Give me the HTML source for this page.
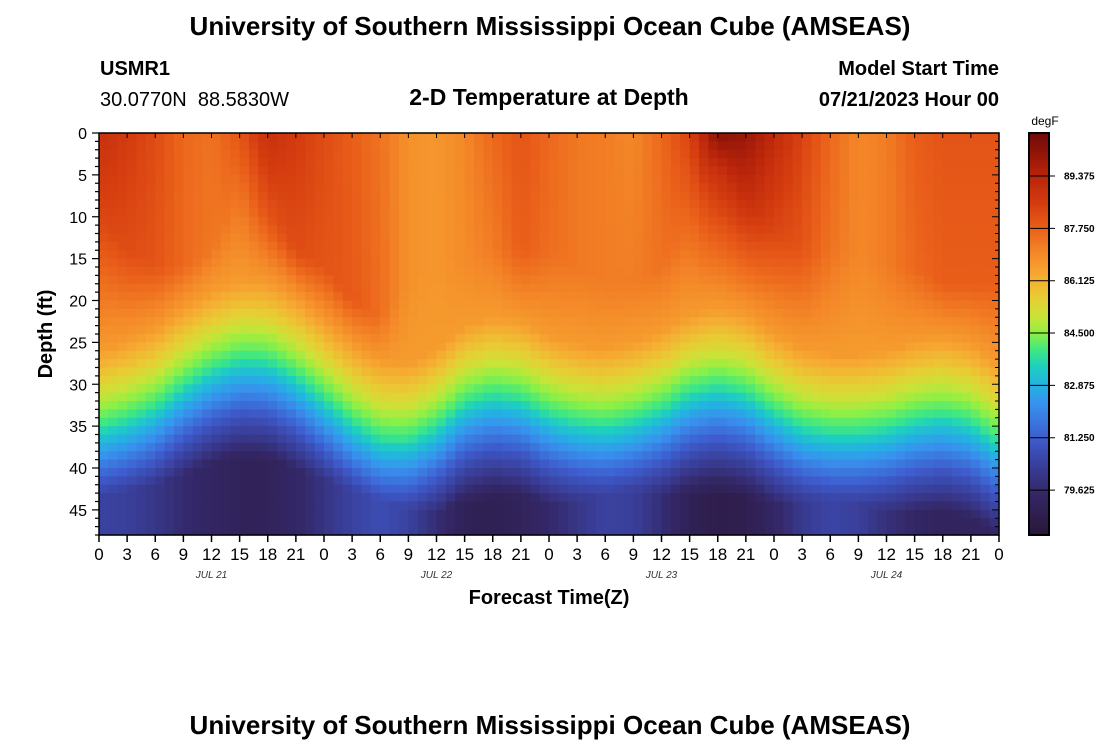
<!DOCTYPE html>
<html><head><meta charset="utf-8"><style>
body{margin:0;background:#fff;width:1100px;height:750px;overflow:hidden;font-family:"Liberation Sans",sans-serif}
svg text{font-family:"Liberation Sans",sans-serif}
</style></head><body>
<svg id="chart" width="1100" height="750" viewBox="0 0 1100 750" xmlns="http://www.w3.org/2000/svg">
<text x="550" y="35" text-anchor="middle" font-size="26" font-weight="bold">University of Southern Mississippi Ocean Cube (AMSEAS)</text>
<text x="100" y="75" font-size="20" font-weight="bold">USMR1</text>
<text x="100" y="106" font-size="20" style="white-space:pre">30.0770N  88.5830W</text>
<text x="549" y="105" text-anchor="middle" font-size="23" font-weight="bold">2-D Temperature at Depth</text>
<text x="999" y="75" text-anchor="end" font-size="20" font-weight="bold">Model Start Time</text>
<text x="999" y="106" text-anchor="end" font-size="20" font-weight="bold">07/21/2023 Hour 00</text>
<g id="cells"></g>
<g id="axes"></g>
<g id="cbar"></g>
<text transform="translate(52,334) rotate(-90)" text-anchor="middle" font-size="20" font-weight="bold">Depth (ft)</text>
<text x="549" y="604" text-anchor="middle" font-size="20" font-weight="bold">Forecast Time(Z)</text>
<text x="550" y="734" text-anchor="middle" font-size="26" font-weight="bold">University of Southern Mississippi Ocean Cube (AMSEAS)</text>
</svg>
<script>
// data sampled every 3 hours, t = 0..96
const times = [0,3,6,9,12,15,18,21,24,27,30,33,36,39,42,45,48,51,54,57,60,63,66,69,72,75,78,81,84,87,90,93,96];
const thermoDepth = [33,32,30.5,28,26,24.8,25,26.8,29.5,32.3,34.3,34.5,32.8,30,29,29.5,31.3,32.3,32.7,32,30.7,28.8,28,28.8,31,32.8,33.5,33.5,33,32,31.5,32.3,34.6];
const surfTemp = [89,88.6,88.2,87.6,87.4,88,89,88.6,88.2,87.8,87.4,86.8,86.7,87,87.6,88,87.6,87.3,87.2,87,87.6,88.4,90.3,90,89.2,88.4,87.6,87,87.2,87.8,88,88,88];
const upperDepth = [10,14,16,16,14,8,10,14,16,20,22,18,16,16,14,14,14,16,18,18,16,10,4,8,12,14,14,14,16,16,18,18,18];
const upperTemp = [88.3,88.2,88,87.6,87.3,87.3,88,88.2,88,87.9,87.5,86.8,86.7,86.9,87.2,87.8,87.5,87.3,87.2,87.2,87.4,87.6,89,89,88.3,88,87.4,87,87.2,87.6,87.8,87.8,87.8];
const bottomTemp = [80.5,80.4,80.1,79.7,79.4,79.2,79.2,79.5,80,80.5,80.8,80.5,79.8,79.1,79,79.2,79.6,80.1,80.5,80.4,79.8,79.1,78.8,78.9,79.5,80.2,80.6,80.4,79.9,79.5,79.3,79.3,79.5];
const xTickLabels = ["0","3","6","9","12","15","18","21","0","3","6","9","12","15","18","21","0","3","6","9","12","15","18","21","0","3","6","9","12","15","18","21","0"];
const yTicks = [0,5,10,15,20,25,30,35,40,45];
const dayLabels = ["JUL 21","JUL 22","JUL 23","JUL 24"];
const cbarTicks = [89.375,87.75,86.125,84.5,82.875,81.25,79.625];

const NS="http://www.w3.org/2000/svg";
const X0=99,X1=999,Y0=133,Y1=535,TMAX=96,DMAX=48;
const xs=t=>X0+(X1-X0)*t/TMAX, ys=d=>Y0+(Y1-Y0)*d/DMAX;
const VMIN=78.23,VMAX=90.71, CB0=1029,CB1=1049;
const cv=v=>Y1-(Y1-Y0)*(v-VMIN)/(VMAX-VMIN);
const stops=[[78.2,[42,22,54]],[79.6,[52,40,105]],[80.5,[58,66,160]],[81.25,[62,92,205]],[82.3,[56,145,238]],[82.9,[36,178,226]],[83.5,[30,208,190]],[84.0,[64,232,128]],[84.5,[140,240,70]],[85.0,[200,228,56]],[85.6,[232,205,52]],[86.3,[246,170,50]],[87.0,[244,136,40]],[87.75,[234,96,26]],[88.5,[214,62,16]],[89.4,[184,36,10]],[90.7,[112,10,8]]];
function color(v){
  if(v<=stops[0][0])return `rgb(${stops[0][1]})`;
  for(let i=1;i<stops.length;i++){if(v<=stops[i][0]){const a=stops[i-1],b=stops[i],f=(v-a[0])/(b[0]-a[0]);
    return `rgb(${a[1].map((c,k)=>Math.round(c+(b[1][k]-c)*f)).join(',')})`;}}
  return `rgb(${stops[stops.length-1][1]})`;
}
function interp(arr,t){const i=Math.min(Math.floor(t/3),arr.length-2),f=(t-times[i])/3;return arr[i]+(arr[i+1]-arr[i])*f;}
function lin(pts,z){for(let i=1;i<pts.length;i++){if(z<=pts[i][0]){const a=pts[i-1],b=pts[i];const f=b[0]==a[0]?0:(z-a[0])/(b[0]-a[0]);return a[1]+(b[1]-a[1])*f;}}return pts[pts.length-1][1];}
function temp(t,z){
  const th=interp(thermoDepth,t),s=interp(surfTemp,t),ud0=interp(upperDepth,t),ut=interp(upperTemp,t),b=interp(bottomTemp,t);
  const ud=Math.min(ud0,th-8);
  const pts=[[0,s],[ud,ut],[th-7,86.6],[th-3.5,85.6],[th,84.5],[th+2,83.9],[th+4,83.0],[th+6.5,82.0],[th+9,81.0],[th+12,80.0],[th+16,78.5],[th+40,78]];
  return Math.max(lin(pts,z),b);
}
const cells=document.getElementById('cells');
const dt=1,dz=1;
for(let t=0;t<TMAX;t+=dt){for(let z=0;z<DMAX;z+=dz){
  const r=document.createElementNS(NS,'rect');
  
  
  const x=xs(t),y=ys(z);
  r.setAttribute('x',x.toFixed(2));r.setAttribute('y',y.toFixed(2));
  r.setAttribute('width',(xs(t+dt)-x+0.6).toFixed(2));r.setAttribute('height',(ys(z+dz)-y+0.6).toFixed(2));
  r.setAttribute('fill',color(temp(t+dt/2,z+dz/2)));
  cells.appendChild(r);
}}
const ax=document.getElementById('axes');
function line(g,x1,y1,x2,y2,w,name){const l=document.createElementNS(NS,'line');
  
  
  l.setAttribute('x1',x1);l.setAttribute('y1',y1);l.setAttribute('x2',x2);l.setAttribute('y2',y2);l.setAttribute('stroke','#000');l.setAttribute('stroke-width',w);g.appendChild(l);}
function text(g,x,y,s,size,anchor,name,extra){const e=document.createElementNS(NS,'text');
  
  
  e.setAttribute('x',x);e.setAttribute('y',y);e.setAttribute('font-size',size);e.setAttribute('text-anchor',anchor);
  if(extra)for(const k in extra)e.setAttribute(k,extra[k]);e.textContent=s;g.appendChild(e);}
const fr=document.createElementNS(NS,'rect');


fr.setAttribute('x',X0);fr.setAttribute('y',Y0);fr.setAttribute('width',X1-X0);fr.setAttribute('height',Y1-Y0);fr.setAttribute('fill','none');fr.setAttribute('stroke','#000');fr.setAttribute('stroke-width',1.5);ax.appendChild(fr);
times.forEach((t,i)=>{const x=xs(t);line(ax,x,Y1,x,Y1+7,1.5,'x-tick');line(ax,x,Y0,x,Y0+5,1,'x-top-tick');text(ax,x,Y1+25,xTickLabels[i],17,'middle','x-tick-label');});
dayLabels.forEach((d,i)=>text(ax,xs(12+24*i),578,d,10,'middle','day-label',{'font-style':'italic','font-family':'Liberation Mono, monospace','fill':'#333'}));
for(let d=0;d<=DMAX;d++){const y=ys(d);const major=d%5==0;
  line(ax,X0-(major?7:4),y,X0,y,1.2,'y-tick');line(ax,X1,y,X1-(major?7:4),y,1,'y-right-tick');}
yTicks.forEach(d=>text(ax,X0-12,ys(d)+6,String(d),16,'end','y-tick-label'));
const cb=document.getElementById('cbar');
for(let i=0;i<200;i++){const v0=VMIN+(VMAX-VMIN)*i/200,v1=VMIN+(VMAX-VMIN)*(i+1)/200;
  const r=document.createElementNS(NS,'rect');
  
  
  r.setAttribute('x',CB0);r.setAttribute('y',cv(v1));r.setAttribute('width',CB1-CB0);r.setAttribute('height',cv(v0)-cv(v1)+0.5);r.setAttribute('fill',color((v0+v1)/2));cb.appendChild(r);}
const cbf=document.createElementNS(NS,'rect');


cbf.setAttribute('x',CB0);cbf.setAttribute('y',Y0);cbf.setAttribute('width',CB1-CB0);cbf.setAttribute('height',Y1-Y0);cbf.setAttribute('fill','none');cbf.setAttribute('stroke','#000');cbf.setAttribute('stroke-width',2);cb.appendChild(cbf);
cbarTicks.forEach(v=>{const y=cv(v);line(cb,CB0,y,CB1+6,y,1,'colorbar-tick');text(cb,CB1+15,y+3.5,v.toFixed(3),10,'start','colorbar-label',{'font-weight':'bold'});});
text(cb,1045,125,'degF',12,'middle','colorbar-unit');
</script>
</body></html>
